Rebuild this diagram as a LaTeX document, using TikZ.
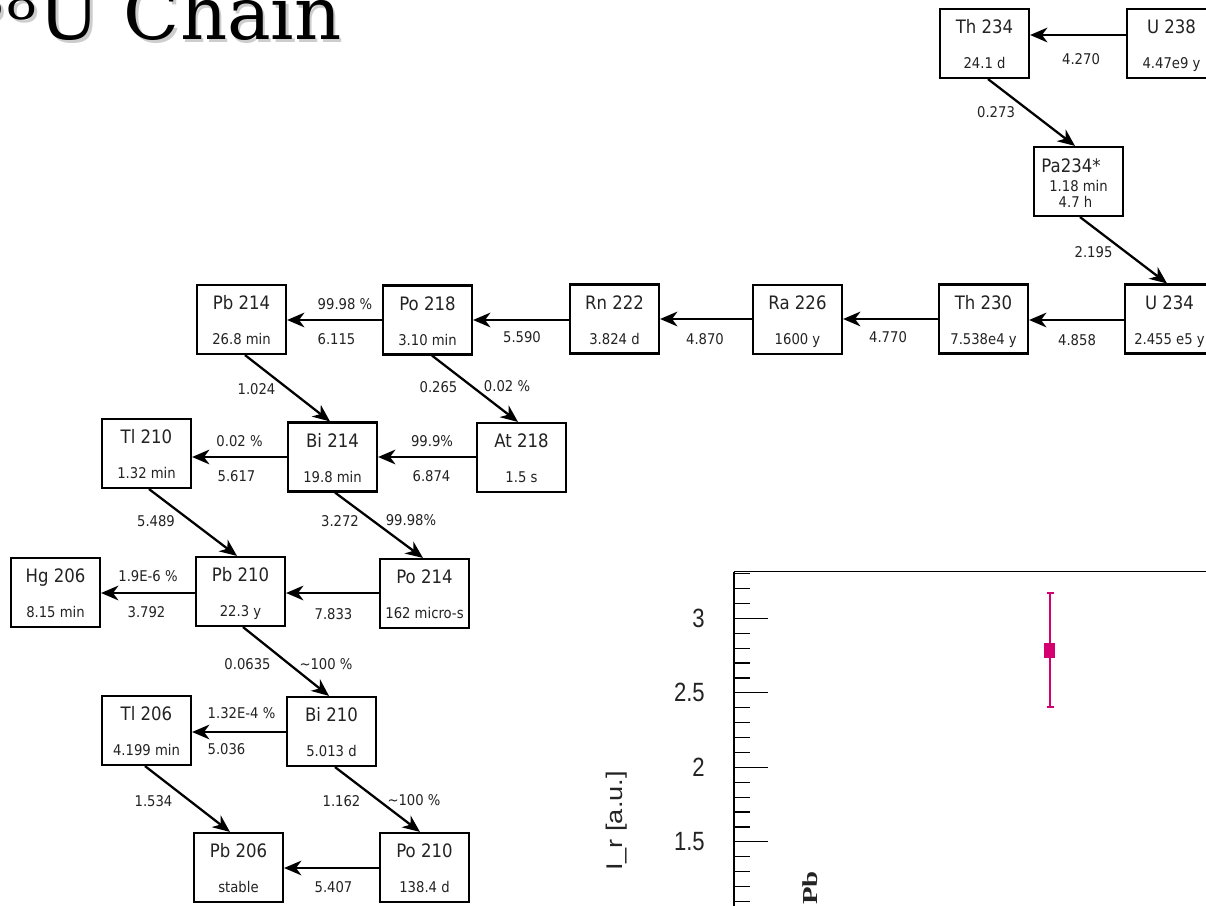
\documentclass[tikz,border=0pt]{standalone}
\usepackage{fontspec}
\setmainfont{DejaVu Sans}
\newfontfamily\titlefont{DejaVu Serif}
\newfontfamily\plotfont{Liberation Sans}
\newfontfamily\pbfont{Liberation Serif}
\usetikzlibrary{arrows.meta,calc}
\definecolor{ink}{RGB}{35,35,35}
\definecolor{mag}{RGB}{212,0,112}
\definecolor{shadowgray}{RGB}{205,205,205}
\newcommand\vs[1]{\scalebox{1}[1.12]{#1}}
\newcommand\titlestr{\raisebox{6pt}{\textsuperscript{238}}U Chain}
\tikzset{
  isobox/.style={draw=black, line width=1.6pt, minimum width=66.75pt, minimum height=51.75pt, inner sep=0pt},
  nm/.style={font=\fontsize{12.4}{13}\selectfont, text=ink, inner sep=0pt, anchor=base},
  hl/.style={font=\fontsize{9.9}{11}\selectfont, text=ink, inner sep=0pt, anchor=base},
  lab/.style={font=\fontsize{9.9}{11}\selectfont, text=ink, inner sep=0pt},
  arr/.style={line width=1.7pt, draw=black, -{Stealth[length=13pt,width=11pt,inset=4pt]}},
  axisline/.style={line width=1pt, draw=black},
  tickline/.style={line width=0.9pt, draw=black},
  ticklab/.style={font=\plotfont\fontsize{18}{20}\selectfont, text=ink, inner sep=0pt, anchor=east},
  errbar/.style={line width=1.4pt, draw=mag},
  marker/.style={fill=mag, minimum width=7.9pt, minimum height=10.9pt, inner sep=0pt},
  titletext/.style={font=\titlefont\fontsize{55}{60}\selectfont, inner sep=0pt, anchor=base east},
}
\newcommand\iso[5]{%
  \node[isobox] (#1) at (#2,#3) {};
  \node[nm] (#1n) at ($(#1.north)+(0,26)$) {\vs{#4}};
  \node[hl] (#1h) at ($(#1.north)+(0,61)$) {\vs{#5}};
}
\begin{document}
\begin{tikzpicture}[x=0.75pt,y=-0.75pt]
\path[use as bounding box] (0,0) rectangle (1206,906);
\clip (0,0) rectangle (1206,906);
\fill[white] (0,0) rectangle (1206,906);

% title
\node[titletext, text=shadowgray] (ttlshadow) at (344.5,42.5) {\titlestr};
\node[titletext, text=black] (ttl) at (342,40) {\titlestr};

% isotopes
\iso{Th234}{984.5}{43.5}{Th 234}{24.1 d}
\iso{U238}{1171.5}{43.5}{U 238}{4.47e9 y}
\node[isobox] (Pa234) at (1078.5,181.5) {};
\node[nm] (Pa234n) at (1071,172) {\vs{Pa234*}};
\node[hl] (Pa234h) at (1078.5,191) {\vs{1.18 min}};
\node[hl] (Pa234h2) at (1075.5,207) {\vs{4.7 h}};
\iso{U234}{1169.5}{319}{U 234}{2.455 e5 y}
\iso{Th230}{983.5}{319}{Th 230}{7.538e4 y}
\iso{Ra226}{797.5}{319.5}{Ra 226}{1600 y}
\iso{Rn222}{614.5}{319}{Rn 222}{3.824 d}
\iso{Po218}{427.5}{320}{Po 218}{3.10 min}
\iso{Pb214}{241.5}{319.5}{Pb 214}{26.8 min}
\iso{At218}{521.5}{457.5}{At 218}{1.5 s}
\iso{Bi214}{332.5}{457}{Bi 214}{19.8 min}
\iso{Tl210}{146.5}{453.5}{Tl 210}{1.32 min}
\iso{Po214}{424.5}{593.5}{Po 214}{162 micro-s}
\iso{Pb210}{240.5}{591.5}{Pb 210}{22.3 y}
\iso{Hg206}{55.5}{592.5}{Hg 206}{8.15 min}
\iso{Tl206}{146.5}{730.5}{Tl 206}{4.199 min}
\iso{Bi210}{331.5}{731.5}{Bi 210}{5.013 d}
\iso{Pb206}{238.5}{867.5}{Pb 206}{stable}
\iso{Po210}{424.5}{867.5}{Po 210}{138.4 d}

% horizontal decays
\draw[arr] ($(U238.west)+(0,-8.5)$) -- ($(Th234.east)+(0,-8.5)$);
\draw[arr] ($(U234.west)+(0,1)$) -- ($(Th230.east)+(0,1)$);
\draw[arr] ($(Th230.west)+(0,0)$) -- ($(Ra226.east)+(0,-0.5)$);
\draw[arr] ($(Ra226.west)+(0,-0.5)$) -- ($(Rn222.east)+(0,0)$);
\draw[arr] ($(Rn222.west)+(0,1)$) -- ($(Po218.east)+(0,0)$);
\draw[arr] ($(Po218.west)+(0,0)$) -- ($(Pb214.east)+(0,0.5)$);
\draw[arr] ($(At218.west)+(0,-0.5)$) -- ($(Bi214.east)+(0,0)$);
\draw[arr] ($(Bi214.west)+(0,0)$) -- ($(Tl210.east)+(0,3.5)$);
\draw[arr] ($(Po214.west)+(0,-0.5)$) -- ($(Pb210.east)+(0,1.5)$);
\draw[arr] ($(Pb210.west)+(0,1.5)$) -- ($(Hg206.east)+(0,0.5)$);
\draw[arr] ($(Bi210.west)+(0,0.5)$) -- ($(Tl206.east)+(0,1.5)$);
\draw[arr] ($(Po210.west)+(0,0.5)$) -- ($(Pb206.east)+(0,0.5)$);

% diagonal decays
\draw[arr] ($(Th234.south)+(3.5,0)$) -- ($(Pa234.north)+(-3.5,0)$);
\draw[arr] ($(Pa234.south)+(1.5,0)$) -- ($(U234.north)+(-2.5,0)$);
\draw[arr] ($(Po218.south)+(4.5,0)$) -- ($(At218.north)+(-3.5,0)$);
\draw[arr] ($(Pb214.south)+(3.5,0)$) -- ($(Bi214.north)+(-2.5,0)$);
\draw[arr] ($(Bi214.south)+(2.5,0)$) -- ($(Po214.north)+(-1.5,0)$);
\draw[arr] ($(Tl210.south)+(2.5,0)$) -- ($(Pb210.north)+(-3.5,0)$);
\draw[arr] ($(Pb210.south)+(2.5,0)$) -- ($(Bi210.north)+(-2.5,0)$);
\draw[arr] ($(Bi210.south)+(3.5,0)$) -- ($(Po210.north)+(-4.5,0)$);
\draw[arr] ($(Tl206.south)+(-1.5,0)$) -- ($(Pb206.north)+(-8.5,0)$);

% energy / branching labels
\node[lab] (l1) at (1081,59) {\vs{4.270}};
\node[lab] (l2) at (996,112.5) {\vs{0.273}};
\node[lab] (l3) at (1093.5,252.5) {\vs{2.195}};
\node[lab] (l4) at (1077,340) {\vs{4.858}};
\node[lab] (l5) at (888,337.5) {\vs{4.770}};
\node[lab] (l6) at (705,339) {\vs{4.870}};
\node[lab] (l7) at (522,337.5) {\vs{5.590}};
\node[lab] (l8) at (345,304) {\vs{99.98 \%}};
\node[lab] (l9) at (336.5,339) {\vs{6.115}};
\node[lab] (l10) at (256.5,389) {\vs{1.024}};
\node[lab] (l11) at (438.5,387.5) {\vs{0.265}};
\node[lab] (l12) at (507,386.5) {\vs{0.02 \%}};
\node[lab] (l13) at (239.5,441) {\vs{0.02 \%}};
\node[lab] (l14) at (236.5,476) {\vs{5.617}};
\node[lab] (l15) at (432,441) {\vs{99.9\%}};
\node[lab] (l16) at (431.5,476) {\vs{6.874}};
\node[lab] (l17) at (156,521) {\vs{5.489}};
\node[lab] (l18) at (340,521) {\vs{3.272}};
\node[lab] (l19) at (411,520) {\vs{99.98\%}};
\node[lab] (l20) at (148,576) {\vs{1.9E-6 \%}};
\node[lab] (l21) at (146.5,612.5) {\vs{3.792}};
\node[lab] (l22) at (333.5,614) {\vs{7.833}};
\node[lab] (l23) at (247.5,664) {\vs{0.0635}};
\node[lab] (l24) at (326,664) {\vs{\textasciitilde 100 \%}};
\node[lab] (l25) at (241.5,713.5) {\vs{1.32E-4 \%}};
\node[lab] (l26) at (226.5,749) {\vs{5.036}};
\node[lab] (l27) at (153.5,801) {\vs{1.534}};
\node[lab] (l28) at (341.5,801) {\vs{1.162}};
\node[lab] (l29) at (414,800) {\vs{\textasciitilde 100 \%}};
\node[lab] (l30) at (333.5,887.5) {\vs{5.407}};

% plot fragment
\draw[axisline] (734,571.5) -- (1215,571.5);
\draw[axisline] (734,571.5) -- (734,915);
\foreach \i in {0,...,22}{
  \draw[tickline] (734,{573.6+\i*14.9}) -- (750,{573.6+\i*14.9});
}
\foreach \yy/\t/\k in {618.3/3/a, 692.8/2.5/b, 767.3/2/c, 841.8/1.5/d}{
  \draw[tickline] (734,\yy) -- (768,\yy);
  \node[ticklab] (tick\k) at (705,\yy) {\scalebox{0.92}[1.1]{\t}};
}
\node[font=\plotfont\fontsize{17}{19}\selectfont, text=ink, inner sep=0pt, rotate=90] (ylab) at (617,821) {\scalebox{1.2}[1]{I\_r [a.u.]}};
\node[font=\pbfont\bfseries\fontsize{16}{18}\selectfont, text=ink, inner sep=0pt, rotate=90] (pblab) at (810,888) {\scalebox{1.35}[1]{Pb}};
\draw[errbar] (1050,593) -- (1050,707);
\draw[errbar] (1046.5,593) -- (1053.5,593);
\draw[errbar] (1046.5,707) -- (1053.5,707);
\node[marker] (pt) at (1049.7,650.3) {};
\end{tikzpicture}
\end{document}
